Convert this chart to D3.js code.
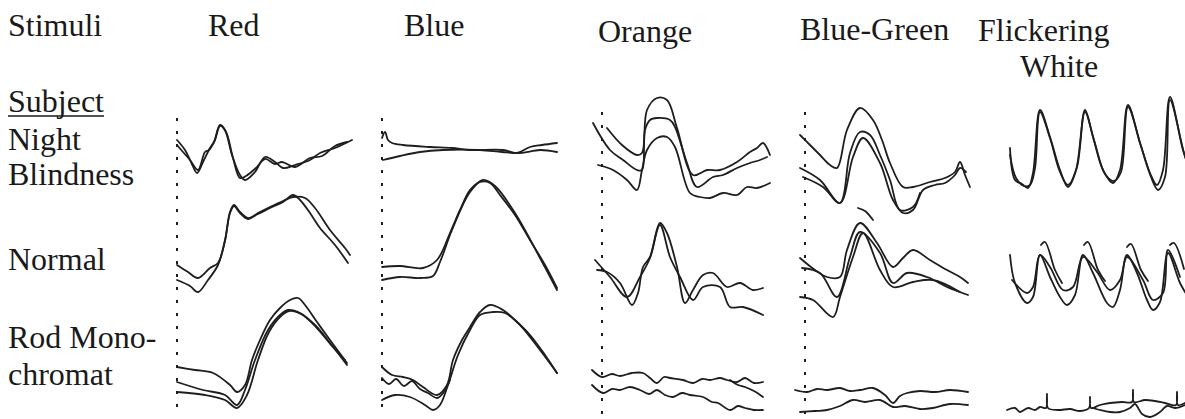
<!DOCTYPE html>
<html>
<head>
  <meta charset="utf-8">
  <title>ERG responses by stimulus</title>
  <script src="https://d3js.org/d3.v7.min.js"></script>
  <style>
    body { margin: 0; background: #fff; }
    text { font-family: "Liberation Serif", "DejaVu Serif", serif; font-size: 32px; fill: #1a1a1a; }
    .trace { fill: none; stroke: #1e1e1e; stroke-width: 1.8; stroke-linejoin: round; stroke-linecap: round; }
    .onset { stroke: #1e1e1e; stroke-width: 2; stroke-dasharray: 3,10; }
  </style>
</head>
<body>
<div id="output"></div>
<script>
  // labels
  var stimuliLines = [["Red"], ["Blue"], ["Orange"], ["Blue-Green"], ["Flickering", "White"]];
  var subjectLines = [["Night", "Blindness"], ["Normal"], ["Rod Mono-", "chromat"]];

  // traces: [time, amplitude] pairs, time from flash onset, amplitude up positive
  var redNight = [
    [[0,10],[8,0],[14,-12],[20,-23],[26,-12],[33,2],[37,8],[43,25],[48,20],[55,-5],[63,-25],[68,-30],[78,-22],[88,-7],[98,-12],[106,-18],[118,-15],[133,-10],[143,-3],[158,2],[175,10]],
    [[0,5],[6,-2],[13,-10],[21,-20],[28,-2],[32,0],[38,10],[43,24],[49,18],[56,-8],[63,-28],[69,-26],[79,-18],[88,-9],[98,-14],[105,-12],[118,-17],[133,-8],[145,-6],[158,4],[170,8]]
  ];
  var redNormal = [
    [[0,0],[11,-7],[21,-13],[33,-3],[41,2],[48,25],[53,53],[57,60],[63,53],[71,47],[81,51],[93,57],[106,63],[116,70],[123,65],[133,52],[143,37],[158,20],[171,2]],
    [[0,-15],[13,-21],[21,-27],[31,-15],[41,0],[48,24],[53,52],[57,59],[63,52],[71,46],[81,52],[93,58],[106,64],[116,68],[128,67],[138,57],[153,35],[168,17],[173,10]]
  ];
  var redRod = [
    [[0,23],[18,20],[36,17],[53,5],[60,-2],[68,5],[75,30],[83,50],[93,70],[103,82],[113,90],[121,92],[128,85],[140,68],[153,50],[170,27]],
    [[0,8],[26,0],[48,-5],[60,-15],[68,0],[78,30],[91,60],[103,75],[111,80],[123,77],[138,65],[153,47],[170,25]],
    [[0,-2],[28,-5],[48,-10],[60,-18],[70,-5],[81,30],[92,58],[104,74],[112,79],[124,76],[139,63],[155,44],[168,30]]
  ];
  var blueNight = [
    [[0,12],[3,18],[6,10],[10,7],[21,5],[48,3],[70,2],[88,0],[121,0],[135,-3],[148,3],[160,5],[175,7]],
    [[1,-10],[18,-6],[38,-2],[61,0],[98,0],[120,-2],[138,-3],[158,0],[175,-2]]
  ];
  var blueNormal = [
    [[0,-2],[18,-1],[41,-3],[55,5],[68,32],[78,55],[88,75],[98,83],[108,82],[118,70],[133,50],[148,25],[163,0],[175,-23]],
    [[0,-15],[18,-12],[38,-13],[51,-11],[58,3],[70,35],[88,73],[101,85],[113,79],[133,52],[158,7],[175,-25]]
  ];
  var blueRod = [
    [[0,23],[10,15],[21,13],[31,10],[41,3],[55,-5],[65,5],[71,30],[80,50],[88,63],[98,78],[108,85],[121,80],[133,70],[148,55],[163,35],[175,17]],
    [[0,12],[7,6],[14,11],[22,4],[30,9],[38,1],[46,-3],[55,-8],[62,-2],[68,10]],
    [[0,-10],[13,-5],[28,-7],[43,-15],[51,-20],[58,-15],[66,5],[76,35],[88,60],[98,75],[111,78],[123,77],[138,65],[158,40],[175,17]]
  ];
  var orangeNight = [
    [[5,22],[20,5],[35,-5],[40,-3],[45,40],[55,52],[65,50],[75,22],[91,-25],[105,-20],[118,-20],[135,-12],[148,-2],[155,2],[161,7],[168,-5]],
    [[-9,27],[8,0],[21,-10],[35,-20],[40,-20],[43,20],[48,30],[55,32],[68,30],[73,23],[85,-13],[95,-37],[111,-27],[121,-25],[135,-18],[148,-13],[158,-10],[165,-7]],
    [[-4,-15],[11,-20],[25,-30],[35,-40],[40,-20],[45,0],[55,12],[65,13],[73,3],[88,-43],[98,-47],[108,-48],[121,-43],[135,-45],[145,-37],[155,-38],[168,-33]]
  ];
  var orangeNormal = [
    [[-5,-5],[5,-7],[18,-18],[30,-40],[36,-28],[41,-2],[48,8],[58,42],[65,32],[75,-2],[83,-38],[91,-25],[101,-10],[111,-8],[125,-22],[138,-18],[151,-25],[161,-23]],
    [[-7,5],[8,-12],[25,-32],[38,-12],[48,7],[58,40],[68,8],[78,-12],[91,-35],[101,-22],[118,-22],[128,-42],[141,-42],[161,-50]]
  ];
  var orangeRod = [
    [[-10,20],[0,13],[10,16],[18,14],[30,17],[41,17],[48,12],[55,7],[62,13],[68,12],[81,10],[91,7],[100,11],[108,10],[118,12],[125,10],[135,8],[143,12],[152,7],[161,8]],
    [[-10,5],[1,-3],[10,1],[18,0],[28,3],[38,0],[47,-4],[55,0],[63,-5],[71,-7],[80,-3],[88,-5],[101,-7],[110,-12],[116,-13],[128,-20],[136,-16],[143,-18],[152,-20],[161,-20]],
    [[128,10],[136,5],[143,3],[152,-1],[161,-7]]
  ];
  var blueGreenNight = [
    [[-5,15],[5,5],[15,-5],[25,-15],[32,-18],[42,20],[55,42],[68,30],[77,10],[85,-13],[98,-37],[108,-37],[125,-32],[140,-28],[150,-22],[155,-12],[160,-25],[165,-37]],
    [[-5,-18],[15,-30],[35,-53],[45,-3],[55,18],[65,15],[75,-5],[85,-30],[95,-60],[108,-57],[115,-43]],
    [[-2,-27],[18,-37],[35,-53],[48,-7],[58,12],[75,-13],[88,-50],[98,-63],[108,-60],[118,-40],[130,-35],[140,-33],[150,-25],[155,-18],[161,-22]]
  ];
  var blueGreenNormal = [
    [[-5,7],[10,-5],[22,-12],[35,-12],[42,15],[55,42],[72,22],[88,-2],[98,7],[108,15],[125,5],[142,-5],[155,-12],[163,-18]],
    [[-3,-3],[15,-8],[32,-32],[45,8],[55,33],[75,12],[88,-18],[102,-8],[122,-12],[142,-22],[163,-30]],
    [[-5,-32],[8,-35],[28,-52],[35,-32],[48,8],[58,32],[75,-5],[88,-22],[108,-17],[128,-15],[155,-27]],
    [[53,57],[60,54],[68,45]]
  ];
  var blueGreenRod = [
    [[-10,0],[2,-2],[12,1],[22,0],[35,2],[45,-1],[55,0],[68,2],[80,-5],[88,-13],[95,-6],[102,-3],[115,-1],[130,-2],[145,0],[163,-2]],
    [[-5,-22],[10,-21],[22,-20],[35,-16],[48,-10],[60,-12],[75,-10],[88,-17],[100,-16],[115,-19],[128,-18],[145,-14],[163,-15]]
  ];
  var flickerNight = [
    [[0,2],[5,-30],[12,-34],[18,-38],[23,-23],[30,40],[40,13],[50,-20],[58,-37],[67,-17],[75,40],[83,13],[93,-20],[103,-33],[110,-20],[118,45],[130,7],[140,-23],[147,-35],[153,-20],[160,53],[173,0],[180,-20]],
    [[0,-5],[6,-28],[14,-36],[20,-35],[25,-18],[30,38],[40,12],[50,-22],[58,-35],[66,-20],[75,38],[84,10],[95,-24],[104,-31],[111,-22],[118,43],[131,4],[141,-27],[148,-40],[155,-27],[160,50],[174,-3],[180,-22]]
  ];
  var flickerNormal = [
    [[0,10],[5,-18],[17,-38],[23,-32],[30,10],[40,-12],[50,-32],[57,-40],[65,-30],[73,10],[83,-8],[97,-38],[103,-42],[110,-25],[117,10],[127,-8],[137,-35],[143,-45],[150,-37],[158,12],[170,-18],[180,-35]],
    [[2,-15],[17,-28],[23,-22],[30,10],[40,-2],[53,-25],[63,-22],[73,8],[87,-7],[100,-25],[110,-15],[117,8],[133,-15],[143,-35],[153,-28],[158,15],[170,-12]],
    [[31,20],[35,23],[45,-5],[52,-18]],
    [[74,20],[78,23],[88,-5],[95,-16]],
    [[117,18],[121,21],[131,-5],[138,-16]],
    [[160,20],[164,22],[174,-4]]
  ];
  var flickerRod = [
    [[-3,-20],[5,-18],[10,-22],[18,-18],[25,-20],[30,-17],[36,-18],[37,-4],[38,-18],[48,-20],[60,-19],[70,-21],[79,-18],[80,-7],[81,-18],[90,-15],[100,-13],[112,-12],[122,-12],[123,0],[124,-12],[135,-10],[145,-11],[155,-13],[166,-15],[167,-2],[168,-15],[180,-10]],
    [[83,-18],[90,-20],[100,-22],[110,-22],[120,-18],[125,-14],[132,-24],[140,-27],[150,-22],[157,-16],[165,-18],[175,-15]]
  ];

  var panels = [
    [redNight, redNormal, redRod],
    [blueNight, blueNormal, blueRod],
    [orangeNight, orangeNormal, orangeRod],
    [blueGreenNight, blueGreenNormal, blueGreenRod],
    [flickerNight, flickerNormal, flickerRod]
  ];

  // layout
  var w = 1185, h = 419;
  var colOnset = [177, 382, 602, 805, 1010];
  var hasOnset = [true, true, true, true, false];
  var onsetTop = [118, 118, 112, 112];
  var onsetBottom = [415, 410, 415, 418];
  var rowMid = [150, 265, 390];
  var headPos = [[208, 36], [404, 36], [598, 42], [800, 40], [978, 41]];
  var headSecond = [[1020, 77]];
  var subjectX = 8;
  var subjectBase = [[150, 185], [270], [348, 385]];

  var svg = d3.select("#output").append("svg")
    .attr("width", w)
    .attr("height", h);

  var x = colOnset.map(function(c){
    return d3.scaleLinear().domain([0, 180]).range([c, c + 180]);
  });
  var y = rowMid.map(function(m){
    return d3.scaleLinear().domain([-60, 60]).range([m + 60, m - 60]);
  });

  // header
  svg.append("text").attr("x", 8).attr("y", 36).text("Stimuli");
  stimuliLines.forEach(function(lines, i){
    svg.append("text").attr("x", headPos[i][0]).attr("y", headPos[i][1]).text(lines[0]);
    if (lines[1]) {
      svg.append("text").attr("x", headSecond[0][0]).attr("y", headSecond[0][1]).text(lines[1]);
    }
  });

  var subj = svg.append("text").attr("x", subjectX).attr("y", 112).text("Subject");
  var sw = subj.node().getComputedTextLength();
  svg.append("line")
    .attr("x1", subjectX).attr("x2", subjectX + sw)
    .attr("y1", 116).attr("y2", 116)
    .attr("stroke", "#1a1a1a").attr("stroke-width", 1.6);

  subjectLines.forEach(function(lines, r){
    lines.forEach(function(t, k){
      svg.append("text").attr("x", subjectX).attr("y", subjectBase[r][k]).text(t);
    });
  });

  // onset markers
  colOnset.forEach(function(c, i){
    if (!hasOnset[i]) return;
    svg.append("line")
      .attr("class", "onset")
      .attr("x1", x[i](0)).attr("x2", x[i](0))
      .attr("y1", onsetTop[i]).attr("y2", onsetBottom[i]);
  });

  // traces
  panels.forEach(function(col, i){
    col.forEach(function(traces, r){
      var line = d3.line()
        .x(function(d){ return x[i](d[0]); })
        .y(function(d){ return y[r](d[1]); })
        .curve(d3.curveCatmullRom.alpha(0.5));
      svg.append("g").selectAll("path")
        .data(traces)
        .enter()
        .append("path")
        .attr("class", "trace")
        .attr("d", line);
    });
  });
</script>
</body>
</html>
